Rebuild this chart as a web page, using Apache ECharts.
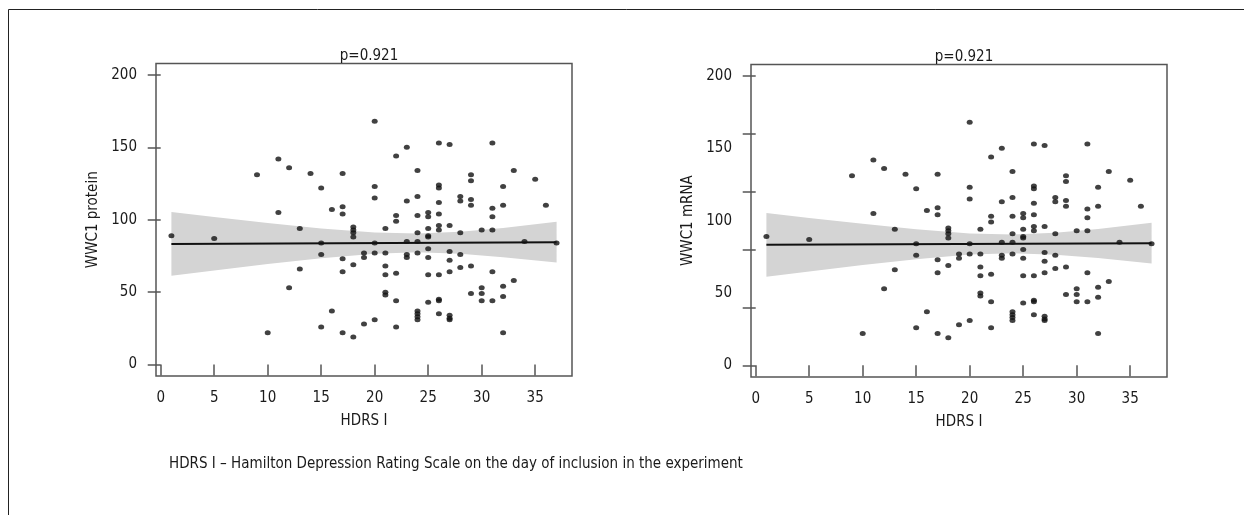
<!DOCTYPE html>
<html>
<head>
<meta charset="utf-8">
<script src="https://cdn.jsdelivr.net/npm/echarts@6/dist/echarts.min.js"></script>
<style>
	html, body { margin: 0; padding: 0; background: #fff; }
	#chart { width: 1244px; height: 515px; }
</style>
</head>
<body>
<div id="chart"></div>
<script>
	// HDRS I score of each patient and the matching WWC1 level
	var hdrsScore = [
		1, 5, 9, 10, 11, 11, 12, 12, 13, 13, 14,
		15, 15, 15, 15, 16, 16,
		17, 17, 17, 17, 17, 17,
		18, 18, 18, 18, 18, 18,
		19, 19, 19,
		20, 20, 20, 20, 20, 20,
		21, 21, 21, 21, 21, 21,
		22, 22, 22, 22, 22, 22,
		23, 23, 23, 23, 23,
		24, 24, 24, 24, 24, 24, 24, 24, 24, 24,
		25, 25, 25, 25, 25, 25, 25, 25, 25,
		26, 26, 26, 26, 26, 26, 26, 26, 26, 26, 26,
		27, 27, 27, 27, 27, 27, 27, 27,
		28, 28, 28, 28, 28,
		29, 29, 29, 29, 29, 29,
		30, 30, 30, 30,
		31, 31, 31, 31, 31, 31,
		32, 32, 32, 32, 32,
		33, 33, 34, 35, 36, 37
	];
	var wwc1Level = [
		89, 87, 131, 22, 142, 105, 136, 53, 94, 66, 132,
		122, 84, 76, 26, 107, 37,
		132, 109, 104, 73, 64, 22,
		95, 93, 91, 88, 69, 19,
		77, 74, 28,
		168, 123, 115, 84, 77, 31,
		94, 77, 68, 62, 50, 48,
		144, 103, 99, 63, 44, 26,
		150, 113, 85, 76, 74,
		134, 116, 103, 91, 85, 77, 37, 35, 33, 31,
		105, 102, 94, 89, 88, 80, 74, 62, 43,
		153, 124, 122, 112, 104, 96, 93, 62, 45, 44, 35,
		152, 96, 78, 72, 64, 34, 32, 31,
		116, 113, 91, 76, 67,
		131, 127, 114, 110, 68, 49,
		93, 53, 49, 44,
		153, 108, 102, 93, 64, 44,
		123, 110, 54, 47, 22,
		134, 58, 85, 128, 110, 84
	];

	// regression line and its confidence band
	var fitX = [1, 37];
	var fitY = [83.3, 84.4];
	var bandX = [1, 5, 10, 15, 20, 24, 28, 32, 37];
	var bandUpper = [105.3, 101.9, 97.8, 94.0, 91.2, 90.5, 91.7, 94.3, 98.6];
	var bandLower = [61.3, 64.9, 69.4, 73.4, 76.6, 77.5, 76.5, 74.1, 70.4];

	// tick labels
	var xTicks = [0, 5, 10, 15, 20, 25, 30, 35];
	var yTicks = [0, 50, 100, 150, 200];
	var yTicksRight = [0, 40, 80, 120, 160, 200];

	var font = "'Liberation Sans Narrow', 'DejaVu Sans Condensed', 'Noto Sans', sans-serif";
	var textColor = '#1a1a1a';
	var frameColor = '#555';

	var points = hdrsScore.map(function (x, i) { return [x, wwc1Level[i]]; });
	var fitLine = fitX.map(function (x, i) { return [x, fitY[i]]; });

	function makeXAxis(idx) {
		return {
			type: 'value', gridIndex: idx,
			min: -0.44, max: 38.44,
			name: 'HDRS I', nameLocation: 'middle', nameGap: 38,
			nameTextStyle: { color: textColor, fontSize: 15, fontFamily: font },
			axisLine: { show: false },
			axisTick: { show: true, length: 11, customValues: xTicks, lineStyle: { color: frameColor, width: 1.5 } },
			axisLabel: { customValues: xTicks, margin: 15, color: textColor, fontSize: 15, fontFamily: font },
			splitLine: { show: false }
		};
	}

	function makeYAxis(idx, name, ticks) {
		return {
			type: 'value', gridIndex: idx,
			min: -8, max: 208,
			name: name, nameLocation: 'middle', nameGap: 55,
			nameTextStyle: { color: textColor, fontSize: 15, fontFamily: font },
			axisLine: { show: false },
			axisTick: { show: true, length: 13, customValues: ticks, lineStyle: { color: frameColor, width: 1.5 } },
			axisLabel: { customValues: yTicks, margin: 19, color: textColor, fontSize: 15, fontFamily: font },
			splitLine: { show: false }
		};
	}

	function bandSeries(idx) {
		return {
			type: 'custom', xAxisIndex: idx, yAxisIndex: idx,
			silent: true, z: 1,
			data: [[bandX[0], bandUpper[0]]],
			renderItem: function (params, api) {
				var pts = [];
				bandX.forEach(function (x, i) { pts.push(api.coord([x, bandUpper[i]])); });
				for (var i = bandX.length - 1; i >= 0; i--) {
					pts.push(api.coord([bandX[i], bandLower[i]]));
				}
				return { type: 'polygon', shape: { points: pts }, style: { fill: '#d4d4d4' } };
			}
		};
	}

	function lineSeries(idx) {
		return {
			type: 'line', xAxisIndex: idx, yAxisIndex: idx,
			showSymbol: false, silent: true, z: 2,
			lineStyle: { color: '#111', width: 2 },
			data: fitLine
		};
	}

	function dotSeries(idx) {
		return {
			type: 'scatter', xAxisIndex: idx, yAxisIndex: idx,
			symbol: 'circle', symbolSize: [6, 5], z: 3,
			itemStyle: { color: '#111' },
			data: points
		};
	}

	var gridStyle = { show: true, borderColor: frameColor, borderWidth: 1.5, backgroundColor: 'transparent' };

	var option = {
		animation: false,
		backgroundColor: '#fff',
		title: [
			{ text: 'p=0.921', left: 364, top: 44, textAlign: 'center',
				textStyle: { color: textColor, fontSize: 15, fontWeight: 'normal', fontFamily: font } },
			{ text: 'p=0.921', left: 959, top: 45, textAlign: 'center',
				textStyle: { color: textColor, fontSize: 15, fontWeight: 'normal', fontFamily: font } }
		],
		grid: [
			Object.assign({ left: 156, top: 63.4, width: 416, height: 312.7 }, gridStyle),
			Object.assign({ left: 751, top: 64.4, width: 416, height: 312.5 }, gridStyle)
		],
		xAxis: [makeXAxis(0), makeXAxis(1)],
		yAxis: [makeYAxis(0, 'WWC1 protein', yTicks), makeYAxis(1, 'WWC1 mRNA', yTicksRight)],
		graphic: [
			{ type: 'rect', silent: true, shape: { x: 8.5, y: 9.5, width: 1400, height: 700 },
				style: { fill: 'none', stroke: '#222', lineWidth: 1 } },
			{ type: 'text', left: 169, top: 457,
				style: { text: 'HDRS I – Hamilton Depression Rating Scale on the day of inclusion in the experiment',
					fill: textColor, fontSize: 15, fontFamily: font } }
		],
		series: [
			bandSeries(0), lineSeries(0), dotSeries(0),
			bandSeries(1), lineSeries(1), dotSeries(1)
		]
	};

	var myChart = echarts.init(document.getElementById('chart'));
	myChart.setOption(option);
</script>
</body>
</html>
